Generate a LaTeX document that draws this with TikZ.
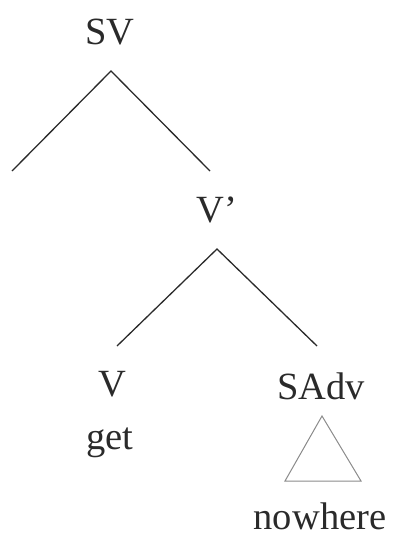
\documentclass[tikz,border=0pt]{standalone}
\usepackage{fontspec}
\setmainfont{Liberation Serif}
\definecolor{ink}{HTML}{2A2A2A}
\definecolor{roof}{HTML}{8A8A8A}
\tikzset{
  cat/.style={font=\fontsize{38.5}{46}\selectfont, text=ink, inner sep=0pt, anchor=base},
  word/.style={cat},
  branch/.style={draw=ink, line width=1.3pt},
  triangle/.style={draw=roof, line width=1pt, line join=miter}
}
\begin{document}
\begin{tikzpicture}[x=1pt,y=-1pt]
\useasboundingbox (0,0) rectangle (393,543);
% etiquettes
\node[cat] (sv) at (110,45) {SV};
\node[cat] (vbar) at (217,222) {V'};
\node[cat] (v) at (112,396) {V};
\node[cat] (sadv) at (321,399) {SAdv};
\node[word] (get) at (110,449) {get};
\node[word] (nowhere) at (320,529) {nowhere};
% points d'attache des branches
\coordinate (sv-top) at (111,71);
\coordinate (spec) at (12,171);
\coordinate (vbar-low) at (210,171);
\coordinate (vbar-top) at (217,249);
\coordinate (v-low) at (117,346);
\coordinate (sadv-low) at (317,346);
\coordinate (roof-top) at (322,416);
\coordinate (roof-left) at (285,481);
\coordinate (roof-right) at (361,481);
\draw[branch] (spec) -- (sv-top) -- (vbar-low);
\draw[branch] (v-low) -- (vbar-top) -- (sadv-low);
% triangle sous SAdv
\draw[triangle] (roof-top) -- (roof-left) -- (roof-right) -- cycle;
\end{tikzpicture}
\end{document}
